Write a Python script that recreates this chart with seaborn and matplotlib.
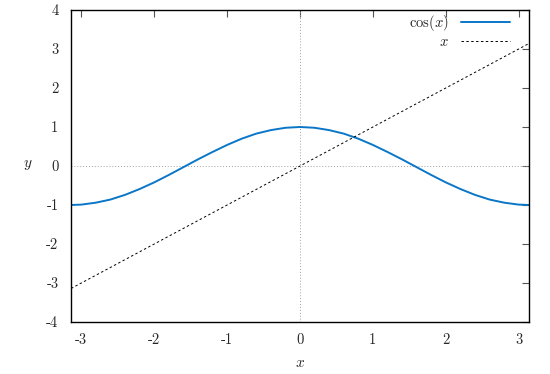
import matplotlib
matplotlib.use("Agg")
import matplotlib.pyplot as plt
import seaborn as sns
import pandas as pd

# data
x_cos = [-3.14, -3.0, -2.8, -2.6, -2.4, -2.2, -2.0, -1.8, -1.6, -1.4, -1.2, -1.0, -0.8, -0.6, -0.4, -0.2, 0.0,
         0.2, 0.4, 0.6, 0.8, 1.0, 1.2, 1.4, 1.6, 1.8, 2.0, 2.2, 2.4, 2.6, 2.8, 3.0, 3.14]
y_cos = [-1.0, -0.99, -0.94, -0.86, -0.74, -0.59, -0.42, -0.23, -0.03, 0.17, 0.36, 0.54, 0.70, 0.83, 0.92, 0.98, 1.0,
         0.98, 0.92, 0.83, 0.70, 0.54, 0.36, 0.17, -0.03, -0.23, -0.42, -0.59, -0.74, -0.86, -0.94, -0.99, -1.0]
x_lin = [-3.14, 3.14]
y_lin = [-3.14, 3.14]
xticks = [-3, -2, -1, 0, 1, 2, 3]
yticks = [-4, -3, -2, -1, 0, 1, 2, 3, 4]

sns.set_style("white")
plt.rcParams["mathtext.fontset"] = "cm"
plt.rcParams["font.family"] = ["cmr10", "DejaVu Serif"]
plt.rcParams["axes.unicode_minus"] = False

fig = plt.figure(figsize=(5.5, 3.74), dpi=100)
ax = fig.add_axes([71/550, 52/374, 458/550, 312/374])

ax.axhline(0, color="#a0a0a0", lw=0.7, ls=(0, (1, 2)), zorder=1)
ax.axvline(0, color="#a0a0a0", lw=0.7, ls=(0, (1, 2)), zorder=1)

df_cos = pd.DataFrame({"x": x_cos, "y": y_cos})
df_lin = pd.DataFrame({"x": x_lin, "y": y_lin})
sns.lineplot(data=df_cos, x="x", y="y", ax=ax, color="#0a76c8", lw=1.4,
             label=r"$\cos(x)$", sort=False)
sns.lineplot(data=df_lin, x="x", y="y", ax=ax, color="black", lw=0.7,
             ls=(0, (2.5, 2.5)), label=r"$x$", sort=False)

ax.set_xlim(-3.1416, 3.1416)
ax.set_ylim(-4, 4)
ax.set_xticks(xticks)
ax.set_xticklabels([str(t) for t in xticks])
ax.set_yticks(yticks)
ax.set_yticklabels([str(t) for t in yticks])
ax.tick_params(direction="in", length=5, width=0.8, color="#555555",
               top=True, right=True, labelsize=10.5)
ax.tick_params(axis="x", pad=8)
ax.tick_params(axis="y", pad=9)
for s in ax.spines.values():
    s.set_color("black")
    s.set_linewidth(1.0)

ax.set_xlabel("")
ax.set_ylabel("")
fig.text(300/550, 1 - 363/374, r"$x$", fontsize=11, ha="center", va="center")
fig.text(28/550, 1 - 165/374, r"$y$", fontsize=11, ha="center", va="center")

leg = ax.legend(loc="upper right", frameon=False, markerfirst=False,
                fontsize=10.5, handlelength=3.4, borderaxespad=0.0,
                labelspacing=0.15, bbox_to_anchor=(0.972, 1.01))

fig.savefig("out.png", dpi=100)
